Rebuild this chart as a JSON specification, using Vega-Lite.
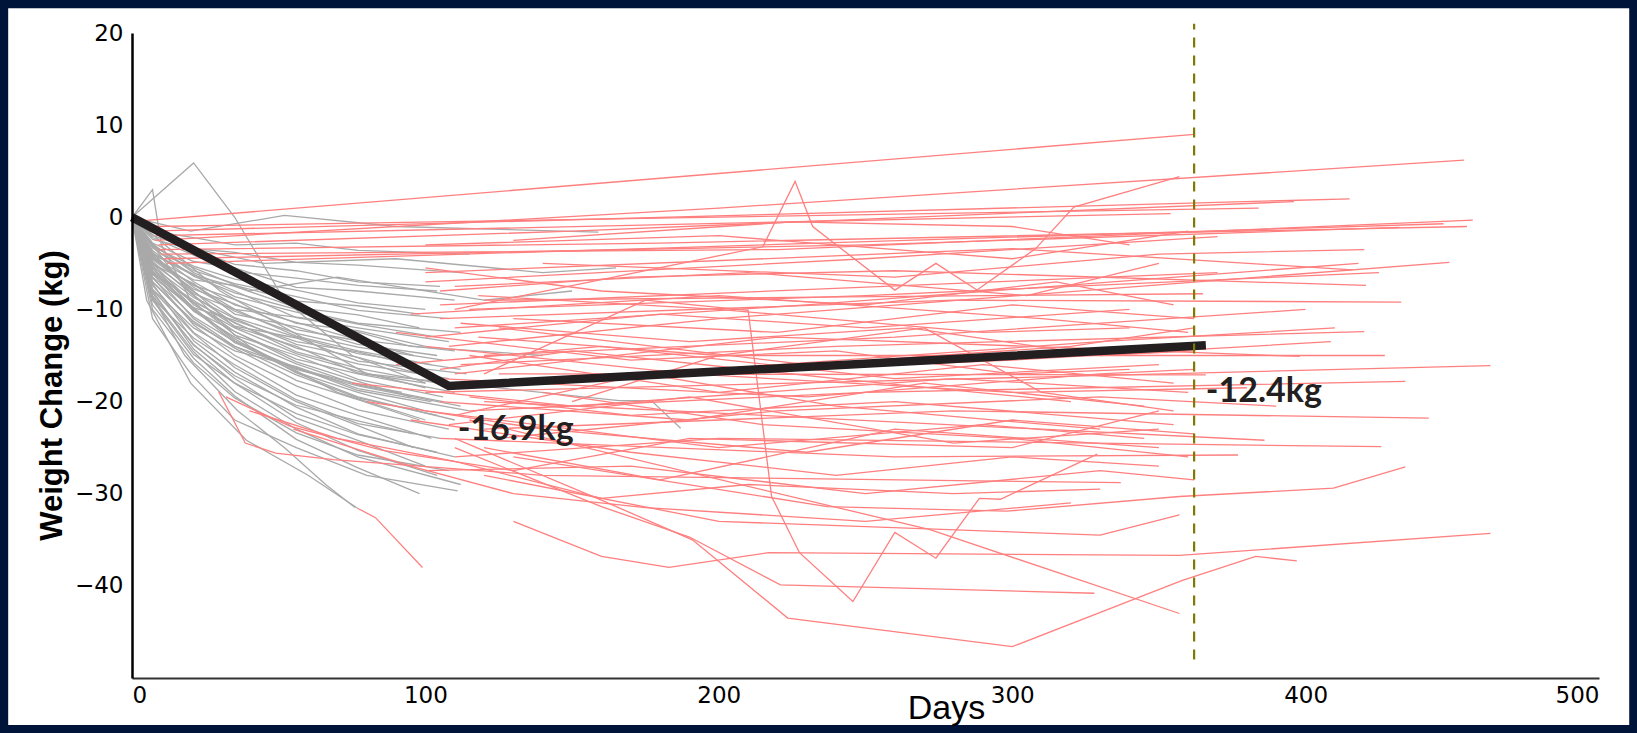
{
"$schema": "https://vega.github.io/schema/vega-lite/v6.json",
"width": 1467, "height": 645,
"autosize": {"type": "none"},
"padding": {"left": 132, "top": 33, "right": 38, "bottom": 55},
"background": "#001338",
"config": {"view": {"stroke": null}},
"datasets": {
"gray": [
{"s":"g1","d":0,"w":0},{"s":"g1","d":7,"w":-1.5},{"s":"g1","d":21,"w":-2.2},{"s":"g1","d":35,"w":-3.0},{"s":"g1","d":56,"w":-2.8},{"s":"g1","d":77,"w":-3.6},{"s":"g1","d":115,"w":-4.0},
{"s":"g2","d":0,"w":0},{"s":"g2","d":7,"w":-2.0},{"s":"g2","d":21,"w":-3.4},{"s":"g2","d":35,"w":-3.8},{"s":"g2","d":56,"w":-4.9},{"s":"g2","d":77,"w":-5.2},{"s":"g2","d":112,"w":-6.0},
{"s":"g3","d":0,"w":0},{"s":"g3","d":7,"w":-2.4},{"s":"g3","d":21,"w":-3.5},{"s":"g3","d":35,"w":-5.1},{"s":"g3","d":56,"w":-5.8},{"s":"g3","d":77,"w":-7.0},{"s":"g3","d":105,"w":-7.5},
{"s":"g4","d":0,"w":0},{"s":"g4","d":7,"w":-2.8},{"s":"g4","d":21,"w":-4.8},{"s":"g4","d":35,"w":-5.5},{"s":"g4","d":56,"w":-7.6},{"s":"g4","d":77,"w":-8.0},{"s":"g4","d":110,"w":-9.0},
{"s":"g5","d":0,"w":0},{"s":"g5","d":7,"w":-3.2},{"s":"g5","d":21,"w":-5.3},{"s":"g5","d":35,"w":-6.7},{"s":"g5","d":56,"w":-7.9},{"s":"g5","d":77,"w":-9.3},{"s":"g5","d":100,"w":-10.0},
{"s":"g6","d":0,"w":0},{"s":"g6","d":7,"w":-3.0},{"s":"g6","d":21,"w":-5.8},{"s":"g6","d":35,"w":-7.2},{"s":"g6","d":56,"w":-8.6},{"s":"g6","d":77,"w":-10.1},{"s":"g6","d":108,"w":-11.0},
{"s":"g7","d":0,"w":0},{"s":"g7","d":7,"w":-4.0},{"s":"g7","d":21,"w":-6.3},{"s":"g7","d":35,"w":-7.5},{"s":"g7","d":56,"w":-9.8},{"s":"g7","d":77,"w":-10.6},{"s":"g7","d":98,"w":-12.0},
{"s":"g8","d":0,"w":0},{"s":"g8","d":7,"w":-3.3},{"s":"g8","d":21,"w":-6.4},{"s":"g8","d":35,"w":-8.2},{"s":"g8","d":56,"w":-10.0},{"s":"g8","d":77,"w":-11.5},{"s":"g8","d":112,"w":-12.5},
{"s":"g9","d":0,"w":0},{"s":"g9","d":7,"w":-3.9},{"s":"g9","d":21,"w":-6.2},{"s":"g9","d":35,"w":-8.6},{"s":"g9","d":56,"w":-10.3},{"s":"g9","d":77,"w":-11.6},{"s":"g9","d":104,"w":-13.0},
{"s":"g10","d":0,"w":0},{"s":"g10","d":7,"w":-4.5},{"s":"g10","d":21,"w":-7.4},{"s":"g10","d":35,"w":-8.9},{"s":"g10","d":56,"w":-11.5},{"s":"g10","d":77,"w":-12.3},{"s":"g10","d":100,"w":-14.0},
{"s":"g11","d":0,"w":0},{"s":"g11","d":7,"w":-3.6},{"s":"g11","d":21,"w":-7.0},{"s":"g11","d":35,"w":-9.5},{"s":"g11","d":56,"w":-11.4},{"s":"g11","d":77,"w":-13.3},{"s":"g11","d":110,"w":-14.5},
{"s":"g12","d":0,"w":0},{"s":"g12","d":7,"w":-4.6},{"s":"g12","d":21,"w":-7.8},{"s":"g12","d":35,"w":-9.4},{"s":"g12","d":56,"w":-12.2},{"s":"g12","d":77,"w":-13.4},{"s":"g12","d":96,"w":-15.0},
{"s":"g13","d":0,"w":0},{"s":"g13","d":7,"w":-4.1},{"s":"g13","d":21,"w":-7.6},{"s":"g13","d":35,"w":-10.2},{"s":"g13","d":56,"w":-12.6},{"s":"g13","d":77,"w":-14.1},{"s":"g13","d":106,"w":-15.5},
{"s":"g14","d":0,"w":0},{"s":"g14","d":7,"w":-5.0},{"s":"g14","d":21,"w":-8.3},{"s":"g14","d":35,"w":-10.0},{"s":"g14","d":56,"w":-12.9},{"s":"g14","d":77,"w":-14.5},{"s":"g14","d":102,"w":-16.0},
{"s":"g15","d":0,"w":0},{"s":"g15","d":7,"w":-4.3},{"s":"g15","d":21,"w":-8.1},{"s":"g15","d":35,"w":-10.9},{"s":"g15","d":56,"w":-13.0},{"s":"g15","d":77,"w":-14.8},{"s":"g15","d":112,"w":-16.5},
{"s":"g16","d":0,"w":0},{"s":"g16","d":7,"w":-5.4},{"s":"g16","d":21,"w":-8.7},{"s":"g16","d":35,"w":-11.0},{"s":"g16","d":56,"w":-13.8},{"s":"g16","d":77,"w":-15.2},{"s":"g16","d":98,"w":-17.0},
{"s":"g17","d":0,"w":0},{"s":"g17","d":7,"w":-4.8},{"s":"g17","d":21,"w":-8.5},{"s":"g17","d":35,"w":-11.5},{"s":"g17","d":56,"w":-14.2},{"s":"g17","d":77,"w":-15.9},{"s":"g17","d":108,"w":-17.5},
{"s":"g18","d":0,"w":0},{"s":"g18","d":7,"w":-5.6},{"s":"g18","d":21,"w":-9.2},{"s":"g18","d":35,"w":-11.4},{"s":"g18","d":56,"w":-14.6},{"s":"g18","d":77,"w":-16.4},{"s":"g18","d":104,"w":-18.0},
{"s":"g19","d":0,"w":0},{"s":"g19","d":7,"w":-5.0},{"s":"g19","d":21,"w":-9.5},{"s":"g19","d":35,"w":-12.0},{"s":"g19","d":56,"w":-14.8},{"s":"g19","d":77,"w":-16.7},{"s":"g19","d":100,"w":-18.5},
{"s":"g20","d":0,"w":0},{"s":"g20","d":7,"w":-5.8},{"s":"g20","d":21,"w":-9.3},{"s":"g20","d":35,"w":-12.4},{"s":"g20","d":56,"w":-15.4},{"s":"g20","d":77,"w":-17.0},{"s":"g20","d":110,"w":-19.0},
{"s":"g21","d":0,"w":0},{"s":"g21","d":7,"w":-6.2},{"s":"g21","d":21,"w":-10.1},{"s":"g21","d":35,"w":-12.4},{"s":"g21","d":56,"w":-15.7},{"s":"g21","d":77,"w":-17.8},{"s":"g21","d":95,"w":-19.5},
{"s":"g22","d":0,"w":0},{"s":"g22","d":7,"w":-5.5},{"s":"g22","d":21,"w":-10.2},{"s":"g22","d":35,"w":-13.0},{"s":"g22","d":56,"w":-15.9},{"s":"g22","d":77,"w":-18.2},{"s":"g22","d":106,"w":-20.0},
{"s":"g23","d":0,"w":0},{"s":"g23","d":7,"w":-6.0},{"s":"g23","d":21,"w":-9.8},{"s":"g23","d":35,"w":-13.4},{"s":"g23","d":56,"w":-16.5},{"s":"g23","d":77,"w":-18.3},{"s":"g23","d":112,"w":-20.5},
{"s":"g24","d":0,"w":0},{"s":"g24","d":7,"w":-6.6},{"s":"g24","d":21,"w":-10.8},{"s":"g24","d":35,"w":-13.5},{"s":"g24","d":56,"w":-16.8},{"s":"g24","d":77,"w":-19.0},{"s":"g24","d":100,"w":-21.0},
{"s":"g25","d":0,"w":0},{"s":"g25","d":7,"w":-6.0},{"s":"g25","d":21,"w":-11.0},{"s":"g25","d":35,"w":-14.0},{"s":"g25","d":56,"w":-17.1},{"s":"g25","d":77,"w":-19.6},{"s":"g25","d":104,"w":-21.5},
{"s":"g26","d":0,"w":0},{"s":"g26","d":7,"w":-7.0},{"s":"g26","d":21,"w":-11.3},{"s":"g26","d":35,"w":-14.2},{"s":"g26","d":56,"w":-17.7},{"s":"g26","d":77,"w":-19.8},{"s":"g26","d":98,"w":-22.0},
{"s":"g27","d":0,"w":0},{"s":"g27","d":7,"w":-6.5},{"s":"g27","d":21,"w":-11.7},{"s":"g27","d":35,"w":-15.0},{"s":"g27","d":56,"w":-18.3},{"s":"g27","d":77,"w":-20.9},{"s":"g27","d":108,"w":-23.0},
{"s":"g28","d":0,"w":0},{"s":"g28","d":7,"w":-7.4},{"s":"g28","d":21,"w":-12.5},{"s":"g28","d":35,"w":-15.4},{"s":"g28","d":56,"w":-19.3},{"s":"g28","d":77,"w":-21.5},{"s":"g28","d":102,"w":-24.0},
{"s":"g29","d":0,"w":0},{"s":"g29","d":7,"w":-7.9},{"s":"g29","d":21,"w":-12.6},{"s":"g29","d":35,"w":-16.3},{"s":"g29","d":56,"w":-20.0},{"s":"g29","d":77,"w":-22.6},{"s":"g29","d":96,"w":-25.0},
{"s":"g30","d":0,"w":0},{"s":"g30","d":7,"w":-7.2},{"s":"g30","d":21,"w":-13.4},{"s":"g30","d":35,"w":-16.8},{"s":"g30","d":56,"w":-20.6},{"s":"g30","d":77,"w":-23.5},{"s":"g30","d":110,"w":-26.0},
{"s":"g31","d":0,"w":0},{"s":"g31","d":7,"w":-8.5},{"s":"g31","d":21,"w":-13.8},{"s":"g31","d":35,"w":-17.5},{"s":"g31","d":56,"w":-21.8},{"s":"g31","d":77,"w":-24.2},{"s":"g31","d":100,"w":-27.0},
{"s":"g32","d":0,"w":0},{"s":"g32","d":7,"w":-8.0},{"s":"g32","d":21,"w":-14.3},{"s":"g32","d":35,"w":-18.0},{"s":"g32","d":56,"w":-22.3},{"s":"g32","d":77,"w":-25.3},{"s":"g32","d":104,"w":-28.0},
{"s":"g33","d":0,"w":0},{"s":"g33","d":7,"w":-8.8},{"s":"g33","d":21,"w":-14.6},{"s":"g33","d":35,"w":-18.9},{"s":"g33","d":56,"w":-23.0},{"s":"g33","d":77,"w":-26.0},{"s":"g33","d":112,"w":-29.0},
{"s":"g34","d":0,"w":0},{"s":"g34","d":7,"w":-9.5},{"s":"g34","d":21,"w":-15.3},{"s":"g34","d":35,"w":-19.4},{"s":"g34","d":56,"w":-24.1},{"s":"g34","d":77,"w":-27.2},{"s":"g34","d":98,"w":-30.0},
{"s":"g35","d":0,"w":0},{"s":"g35","d":5,"w":-9},{"s":"g35","d":20,"w":-18},{"s":"g35","d":39,"w":-24.2},{"s":"g35","d":60,"w":-28},{"s":"g35","d":77,"w":-31.6},
{"s":"g36","d":0,"w":0},{"s":"g36","d":21,"w":5.9},{"s":"g36","d":35,"w":0},{"s":"g36","d":52,"w":-9},{"s":"g36","d":75,"w":-15},{"s":"g36","d":100,"w":-18},
{"s":"g37","d":0,"w":0},{"s":"g37","d":7,"w":3.0},{"s":"g37","d":10,"w":-3},{"s":"g37","d":20,"w":-9},{"s":"g37","d":40,"w":-14},{"s":"g37","d":70,"w":-19},{"s":"g37","d":100,"w":-22},
{"s":"g38","d":0,"w":0},{"s":"g38","d":20,"w":-1.5},{"s":"g38","d":52,"w":0.2},{"s":"g38","d":90,"w":-1},{"s":"g38","d":159,"w":-1.6},
{"s":"g39","d":0,"w":0},{"s":"g39","d":30,"w":-8},{"s":"g39","d":80,"w":-17},{"s":"g39","d":166,"w":-19.9},{"s":"g39","d":177,"w":-19.9},{"s":"g39","d":187,"w":-22.9},
{"s":"g40","d":0,"w":0},{"s":"g40","d":15,"w":-3},{"s":"g40","d":45,"w":-5},{"s":"g40","d":90,"w":-4.5},{"s":"g40","d":140,"w":-6},{"s":"g40","d":165,"w":-5.5},
{"s":"g41","d":0,"w":0},{"s":"g41","d":10,"w":-4},{"s":"g41","d":40,"w":-8},{"s":"g41","d":70,"w":-6.5},{"s":"g41","d":120,"w":-9},{"s":"g41","d":150,"w":-8},
{"s":"g42","d":0,"w":0},{"s":"g42","d":14,"w":-6},{"s":"g42","d":35,"w":-10},{"s":"g42","d":60,"w":-11},{"s":"g42","d":95,"w":-14},{"s":"g42","d":140,"w":-15},
{"s":"g43","d":0,"w":0},{"s":"g43","d":7,"w":-11},{"s":"g43","d":20,"w":-17},{"s":"g43","d":35,"w":-22},{"s":"g43","d":56,"w":-25},{"s":"g43","d":80,"w":-28},{"s":"g43","d":111,"w":-29.7},
{"s":"g44","d":0,"w":0},{"s":"g44","d":6,"w":-8},{"s":"g44","d":18,"w":-15},{"s":"g44","d":36,"w":-21},{"s":"g44","d":52,"w":-25},{"s":"g44","d":66,"w":-29},{"s":"g44","d":76,"w":-31.5},
{"s":"g45","d":0,"w":0},{"s":"g45","d":7,"w":-6.5},{"s":"g45","d":21,"w":-9.8},{"s":"g45","d":35,"w":-11.2},{"s":"g45","d":56,"w":-13.5},{"s":"g45","d":77,"w":-14.6},{"s":"g45","d":95,"w":-16.0},
{"s":"g46","d":0,"w":0},{"s":"g46","d":7,"w":-4.2},{"s":"g46","d":21,"w":-8.0},{"s":"g46","d":35,"w":-11.9},{"s":"g46","d":56,"w":-14.0},{"s":"g46","d":77,"w":-16.9},{"s":"g46","d":100,"w":-18.0},
{"s":"g47","d":0,"w":0},{"s":"g47","d":7,"w":-7.8},{"s":"g47","d":21,"w":-12.0},{"s":"g47","d":35,"w":-14.5},{"s":"g47","d":56,"w":-16.2},{"s":"g47","d":77,"w":-18.6},{"s":"g47","d":102,"w":-20.0},
{"s":"g48","d":0,"w":0},{"s":"g48","d":7,"w":-5.2},{"s":"g48","d":21,"w":-9.9},{"s":"g48","d":35,"w":-13.2},{"s":"g48","d":56,"w":-16.9},{"s":"g48","d":77,"w":-19.5},{"s":"g48","d":110,"w":-22.0},
{"s":"g49","d":0,"w":0},{"s":"g49","d":7,"w":-8.8},{"s":"g49","d":21,"w":-13.1},{"s":"g49","d":35,"w":-16.0},{"s":"g49","d":56,"w":-19.8},{"s":"g49","d":77,"w":-22.4},{"s":"g49","d":105,"w":-24.0},
{"s":"g50","d":0,"w":0},{"s":"g50","d":7,"w":-2.9},{"s":"g50","d":21,"w":-6.0},{"s":"g50","d":35,"w":-8.0},{"s":"g50","d":56,"w":-10.9},{"s":"g50","d":77,"w":-12.0},{"s":"g50","d":108,"w":-13.5},
{"s":"g51","d":0,"w":0},{"s":"g51","d":7,"w":-6.1},{"s":"g51","d":21,"w":-9.0},{"s":"g51","d":35,"w":-11.8},{"s":"g51","d":56,"w":-13.1},{"s":"g51","d":77,"w":-15.6},{"s":"g51","d":114,"w":-17.0},
{"s":"g52","d":0,"w":0},{"s":"g52","d":7,"w":-7.0},{"s":"g52","d":21,"w":-11.5},{"s":"g52","d":35,"w":-14.0},{"s":"g52","d":56,"w":-16.4},{"s":"g52","d":77,"w":-18.1},{"s":"g52","d":92,"w":-19.0},
{"s":"g53","d":0,"w":0},{"s":"g53","d":7,"w":-5.9},{"s":"g53","d":21,"w":-10.0},{"s":"g53","d":35,"w":-13.6},{"s":"g53","d":56,"w":-16.3},{"s":"g53","d":77,"w":-18.8},{"s":"g53","d":115,"w":-21.0},
{"s":"g54","d":0,"w":0},{"s":"g54","d":7,"w":-9.0},{"s":"g54","d":21,"w":-14.9},{"s":"g54","d":35,"w":-18.0},{"s":"g54","d":56,"w":-21.3},{"s":"g54","d":77,"w":-23.6},{"s":"g54","d":104,"w":-25.5},
{"s":"g55","d":0,"w":0},{"s":"g55","d":7,"w":-5.1},{"s":"g55","d":21,"w":-7.2},{"s":"g55","d":35,"w":-10.5},{"s":"g55","d":56,"w":-11.9},{"s":"g55","d":77,"w":-13.8},{"s":"g55","d":104,"w":-15.0},
{"s":"g56","d":0,"w":0},{"s":"g56","d":7,"w":-4.4},{"s":"g56","d":21,"w":-6.8},{"s":"g56","d":35,"w":-7.4},{"s":"g56","d":56,"w":-9.1},{"s":"g56","d":77,"w":-9.6},{"s":"g56","d":98,"w":-10.5},
{"s":"g57","d":0,"w":0},{"s":"g57","d":7,"w":-10.0},{"s":"g57","d":21,"w":-15.8},{"s":"g57","d":35,"w":-19.6},{"s":"g57","d":56,"w":-23.4},{"s":"g57","d":77,"w":-25.8},{"s":"g57","d":108,"w":-27.5},
{"s":"g58","d":0,"w":0},{"s":"g58","d":7,"w":-3.8},{"s":"g58","d":21,"w":-8.4},{"s":"g58","d":35,"w":-12.8},{"s":"g58","d":56,"w":-15.0},{"s":"g58","d":77,"w":-17.6},{"s":"g58","d":106,"w":-19.5},
{"s":"g59","d":0,"w":0},{"s":"g59","d":7,"w":-8.2},{"s":"g59","d":21,"w":-13.9},{"s":"g59","d":35,"w":-17.2},{"s":"g59","d":56,"w":-20.4},{"s":"g59","d":77,"w":-22.1},{"s":"g59","d":96,"w":-23.5},
{"s":"g60","d":0,"w":0},{"s":"g60","d":7,"w":-2.2},{"s":"g60","d":21,"w":-4.1},{"s":"g60","d":35,"w":-5.9},{"s":"g60","d":56,"w":-6.6},{"s":"g60","d":77,"w":-7.4},{"s":"g60","d":104,"w":-8.0}
],
"red": [
{"s":"r1","d":3,"w":-0.4},{"s":"r1","d":362,"w":9.0},
{"s":"r2","d":8,"w":-2.5},{"s":"r2","d":200,"w":1.0},{"s":"r2","d":454,"w":6.2},
{"s":"r3","d":6,"w":-1.5},{"s":"r3","d":415,"w":2.0},
{"s":"r4","d":9,"w":-3.0},{"s":"r4","d":150,"w":-1.5},{"s":"r4","d":396,"w":1.7},
{"s":"r5","d":7,"w":-1.0},{"s":"r5","d":384,"w":1.0},
{"s":"r6","d":10,"w":-4.0},{"s":"r6","d":220,"w":-3.5},{"s":"r6","d":457,"w":-0.3},
{"s":"r7","d":8,"w":-2.0},{"s":"r7","d":354,"w":0.4},
{"s":"r8","d":12,"w":-5.0},{"s":"r8","d":447,"w":-0.7},
{"s":"r56","d":9,"w":-3.5},{"s":"r56","d":180,"w":-2.8},{"s":"r56","d":455,"w":-1.0},
{"s":"r57","d":11,"w":-4.5},{"s":"r57","d":250,"w":-3.0},{"s":"r57","d":432,"w":-1.1},
{"s":"r9","d":105,"w":-8},{"s":"r9","d":170,"w":-6.5},{"s":"r9","d":260,"w":-5.8},{"s":"r9","d":420.6,"w":-7.4},
{"s":"r10","d":110,"w":-12},{"s":"r10","d":230,"w":-9.5},{"s":"r10","d":418,"w":-5.0},
{"s":"r11","d":100,"w":-6},{"s":"r11","d":300,"w":-3.4},{"s":"r11","d":416,"w":-5.7},
{"s":"r12","d":115,"w":-10},{"s":"r12","d":250,"w":-8.5},{"s":"r12","d":425,"w":-6.0},
{"s":"r13","d":108,"w":-14},{"s":"r13","d":200,"w":-11},{"s":"r13","d":449,"w":-4.9},
{"s":"r14","d":120,"w":-9},{"s":"r14","d":365,"w":-8.3},
{"s":"r15","d":105,"w":-11},{"s":"r15","d":280,"w":-9},{"s":"r15","d":432.6,"w":-9.2},
{"s":"r16","d":112,"w":-16},{"s":"r16","d":240,"w":-14},{"s":"r16","d":420,"w":-12.4},
{"s":"r17","d":110,"w":-18},{"s":"r17","d":300,"w":-15.5},{"s":"r17","d":408.6,"w":-13.5},
{"s":"r18","d":118,"w":-13},{"s":"r18","d":200,"w":-15},{"s":"r18","d":427,"w":-15.0},
{"s":"r19","d":100,"w":-19},{"s":"r19","d":463,"w":-16.1},
{"s":"r20","d":115,"w":-21},{"s":"r20","d":250,"w":-19},{"s":"r20","d":434,"w":-17.8},
{"s":"r21","d":125,"w":-17},{"s":"r21","d":366,"w":-17.1},
{"s":"r22","d":120,"w":-23},{"s":"r22","d":280,"w":-21},{"s":"r22","d":442,"w":-21.8},
{"s":"r23","d":110,"w":-26},{"s":"r23","d":200,"w":-24},{"s":"r23","d":425.8,"w":-24.9},
{"s":"r24","d":130,"w":-26},{"s":"r24","d":237,"w":-31.4},{"s":"r24","d":298,"w":-31.9},{"s":"r24","d":357,"w":-30.3},{"s":"r24","d":409.5,"w":-29.4},{"s":"r24","d":434,"w":-27.1},
{"s":"r25","d":120,"w":-20},{"s":"r25","d":386,"w":-24.2},
{"s":"r26","d":105,"w":-24},{"s":"r26","d":260,"w":-26},{"s":"r26","d":377,"w":-25.8},
{"s":"r27","d":29.5,"w":-18.9},{"s":"r27","d":38.6,"w":-24.5},{"s":"r27","d":49,"w":-25.6},{"s":"r27","d":68.6,"w":-26.3},{"s":"r27","d":140,"w":-28},{"s":"r27","d":337,"w":-28.8},
{"s":"r28","d":130,"w":-33},{"s":"r28","d":160,"w":-36.8},{"s":"r28","d":183,"w":-38},{"s":"r28","d":217,"w":-36.4},{"s":"r28","d":357,"w":-36.7},{"s":"r28","d":463,"w":-34.3},
{"s":"r29","d":110,"w":-24},{"s":"r29","d":160,"w":-30.7},{"s":"r29","d":191,"w":-35},{"s":"r29","d":223.5,"w":-43.5},{"s":"r29","d":300,"w":-46.6},{"s":"r29","d":358,"w":-39.4},{"s":"r29","d":383,"w":-36.8},{"s":"r29","d":397,"w":-37.3},
{"s":"r30","d":120,"w":-17},{"s":"r30","d":175,"w":-9},{"s":"r30","d":210,"w":-10.1},{"s":"r30","d":218,"w":-30.3},{"s":"r30","d":227.5,"w":-36.4},{"s":"r30","d":245.7,"w":-41.7},{"s":"r30","d":260,"w":-34.2},{"s":"r30","d":274,"w":-37},{"s":"r30","d":288.8,"w":-30.5},{"s":"r30","d":296,"w":-30.6},{"s":"r30","d":329,"w":-25.7},
{"s":"r31","d":110,"w":-10},{"s":"r31","d":215,"w":-3.2},{"s":"r31","d":226,"w":3.9},{"s":"r31","d":232,"w":-1.0},{"s":"r31","d":244.5,"w":-4.1},{"s":"r31","d":260,"w":-7.9},{"s":"r31","d":274,"w":-5.0},{"s":"r31","d":288,"w":-7.9},{"s":"r31","d":308,"w":-3.4},{"s":"r31","d":321,"w":1.1},{"s":"r31","d":357,"w":4.4},
{"s":"r32","d":77,"w":-31.6},{"s":"r32","d":83,"w":-32.6},{"s":"r32","d":99,"w":-38},
{"s":"r33","d":110,"w":-25},{"s":"r33","d":160,"w":-31.4},{"s":"r33","d":190,"w":-34.7},{"s":"r33","d":221,"w":-39.9},{"s":"r33","d":328,"w":-40.8},
{"s":"r34","d":115,"w":-22},{"s":"r34","d":272,"w":-33.9},{"s":"r34","d":357,"w":-43.0},
{"s":"r36","d":120,"w":-28},{"s":"r36","d":200,"w":-33},{"s":"r36","d":330,"w":-34.5},{"s":"r36","d":357,"w":-32.3},
{"s":"r38","d":32,"w":-19.5},{"s":"r38","d":54,"w":-22.7},{"s":"r38","d":85.5,"w":-25.3},{"s":"r38","d":130,"w":-27.5},{"s":"r38","d":190,"w":-24},{"s":"r38","d":300,"w":-25},{"s":"r38","d":350,"w":-21},
{"s":"r39","d":100,"w":-7},{"s":"r39","d":250,"w":-4.5},{"s":"r39","d":370,"w":-2.1},
{"s":"r40","d":105,"w":-9.5},{"s":"r40","d":370,"w":-6.0},
{"s":"r41","d":110,"w":-17},{"s":"r41","d":220,"w":-13},{"s":"r41","d":398,"w":-15.1},
{"s":"r43","d":100,"w":-13},{"s":"r43","d":180,"w":-10.5},{"s":"r43","d":250,"w":-12},{"s":"r43","d":340,"w":-10},
{"s":"r44","d":115,"w":-15},{"s":"r44","d":200,"w":-19},{"s":"r44","d":290,"w":-16},{"s":"r44","d":355,"w":-18},
{"s":"r45","d":105,"w":-20},{"s":"r45","d":190,"w":-22},{"s":"r45","d":270,"w":-18},{"s":"r45","d":345,"w":-20.5},
{"s":"r46","d":125,"w":-12},{"s":"r46","d":230,"w":-16},{"s":"r46","d":320,"w":-14},{"s":"r46","d":362,"w":-12},
{"s":"r47","d":110,"w":-21.5},{"s":"r47","d":175,"w":-17},{"s":"r47","d":240,"w":-20.5},{"s":"r47","d":330,"w":-23},
{"s":"r48","d":140,"w":-19},{"s":"r48","d":215,"w":-22.5},{"s":"r48","d":300,"w":-24},{"s":"r48","d":360,"w":-26},
{"s":"r49","d":100,"w":-5.5},{"s":"r49","d":160,"w":-8},{"s":"r49","d":250,"w":-9.5},{"s":"r49","d":315,"w":-7},{"s":"r49","d":355,"w":-9.5},
{"s":"r50","d":120,"w":-25},{"s":"r50","d":180,"w":-28.5},{"s":"r50","d":260,"w":-23},{"s":"r50","d":350,"w":-25},
{"s":"r51","d":112,"w":-11.5},{"s":"r51","d":190,"w":-13.5},{"s":"r51","d":265,"w":-12},{"s":"r51","d":330,"w":-15},{"s":"r51","d":362,"w":-14.5},
{"s":"r52","d":95,"w":-22},{"s":"r52","d":170,"w":-25.5},{"s":"r52","d":240,"w":-28},{"s":"r52","d":300,"w":-26},{"s":"r52","d":350,"w":-27},
{"s":"r53","d":100,"w":-3},{"s":"r53","d":200,"w":-2.0},{"s":"r53","d":300,"w":-4.5},{"s":"r53","d":360,"w":-1.5},
{"s":"r54","d":130,"w":-2.5},{"s":"r54","d":225,"w":-0.5},{"s":"r54","d":300,"w":-1.0},{"s":"r54","d":340,"w":-3},
{"s":"r55","d":150,"w":-20},{"s":"r55","d":200,"w":-15},{"s":"r55","d":270,"w":-12},{"s":"r55","d":310,"w":-19},{"s":"r55","d":355,"w":-21},
{"s":"r58","d":75,"w":-18},{"s":"r58","d":150,"w":-20.5},{"s":"r58","d":280,"w":-17.5},{"s":"r58","d":360,"w":-19},
{"s":"r59","d":80,"w":-20},{"s":"r59","d":140,"w":-23},{"s":"r59","d":230,"w":-25.5},{"s":"r59","d":300,"w":-22},{"s":"r59","d":362,"w":-23.5},
{"s":"r60","d":90,"w":-16},{"s":"r60","d":160,"w":-14},{"s":"r60","d":260,"w":-17.5},{"s":"r60","d":350,"w":-16},
{"s":"r61","d":40,"w":-21},{"s":"r61","d":70,"w":-24},{"s":"r61","d":110,"w":-26.5},{"s":"r61","d":160,"w":-30.5},{"s":"r61","d":210,"w":-29},{"s":"r61","d":280,"w":-30},{"s":"r61","d":330,"w":-29.5},
{"s":"r62","d":55,"w":-23},{"s":"r62","d":95,"w":-27},{"s":"r62","d":130,"w":-30},{"s":"r62","d":175,"w":-31.5},{"s":"r62","d":250,"w":-33},{"s":"r62","d":320,"w":-31},
{"s":"r63","d":100,"w":-14},{"s":"r63","d":190,"w":-17},{"s":"r63","d":300,"w":-19},{"s":"r63","d":380,"w":-18.5},
{"s":"r64","d":105,"w":-17.5},{"s":"r64","d":230,"w":-19.5},{"s":"r64","d":330,"w":-17},{"s":"r64","d":362,"w":-16.5},
{"s":"r65","d":115,"w":-19.5},{"s":"r65","d":170,"w":-21.5},{"s":"r65","d":260,"w":-20},{"s":"r65","d":355,"w":-22.5},
{"s":"r66","d":95,"w":-10.5},{"s":"r66","d":200,"w":-8.5},{"s":"r66","d":310,"w":-11},{"s":"r66","d":360,"w":-12.5},
{"s":"r67","d":120,"w":-15},{"s":"r67","d":260,"w":-13},{"s":"r67","d":400,"w":-10},
{"s":"r68","d":110,"w":-7.5},{"s":"r68","d":210,"w":-6},{"s":"r68","d":305,"w":-8.5},{"s":"r68","d":350,"w":-5},
{"s":"r69","d":100,"w":-21},{"s":"r69","d":200,"w":-25},{"s":"r69","d":290,"w":-22.5},{"s":"r69","d":345,"w":-24},
{"s":"r70","d":125,"w":-24},{"s":"r70","d":220,"w":-21},{"s":"r70","d":330,"w":-19.5},{"s":"r70","d":390,"w":-20.5},
{"s":"r71","d":105,"w":-16.5},{"s":"r71","d":150,"w":-14.5},{"s":"r71","d":240,"w":-17.5},{"s":"r71","d":320,"w":-20},
{"s":"r72","d":130,"w":-11},{"s":"r72","d":220,"w":-12.5},{"s":"r72","d":300,"w":-9.5},{"s":"r72","d":362,"w":-11},
{"s":"r73","d":115,"w":-18.5},{"s":"r73","d":220,"w":-16},{"s":"r73","d":330,"w":-13.5},{"s":"r73","d":410,"w":-12},
{"s":"r74","d":108,"w":-22.5},{"s":"r74","d":190,"w":-19.5},{"s":"r74","d":280,"w":-24.5},{"s":"r74","d":350,"w":-23},
{"s":"r75","d":90,"w":-12.5},{"s":"r75","d":170,"w":-15.5},{"s":"r75","d":240,"w":-14.5},{"s":"r75","d":300,"w":-17},{"s":"r75","d":340,"w":-16.5},
{"s":"r76","d":140,"w":-5},{"s":"r76","d":260,"w":-6.5},{"s":"r76","d":350,"w":-4},{"s":"r76","d":420,"w":-3.5},
{"s":"r77","d":100,"w":-27.5},{"s":"r77","d":170,"w":-27},{"s":"r77","d":250,"w":-30},{"s":"r77","d":330,"w":-27.5},{"s":"r77","d":362,"w":-28.5},
{"s":"r78","d":118,"w":-8.5},{"s":"r78","d":200,"w":-10},{"s":"r78","d":290,"w":-12.5},{"s":"r78","d":340,"w":-12}
],
"mean": [
{"d":0,"w":0},{"d":108,"w":-18.3},{"d":366,"w":-13.9}
],
"labels": [
{"d":111,"w":-24.2,"t":"-16.9kg"},{"d":366,"w":-20.0,"t":"-12.4kg"}
]
},
"layer": [
{
"data": {"values": [{}]},
"mark": {"type": "rect", "color": "#ffffff"},
"encoding": {
"x": {"datum": -42.2, "type": "quantitative", "scale": {"domain": [0, 500], "nice": false, "zero": false},
"axis": {"values": [0, 100, 200, 300, 400, 500], "zindex": 1, "grid": false, "ticks": false, "tickSize": 0, "labelPadding": 6,
"labelFont": "DejaVu Sans", "labelFontSize": 23, "labelColor": "#000000",
"domainColor": "#333333", "domainWidth": 2,
"title": "Days", "titleFont": "Liberation Sans Narrow, Arial Narrow, Liberation Sans", "titleFontSize": 34, "titleFontWeight": "normal", "titleColor": "#000000",
"titleX": 814, "titleY": 40, "titleBaseline": "alphabetic", "titleAlign": "center"}},
"x2": {"datum": 510.3},
"y": {"datum": 22.68, "type": "quantitative", "scale": {"domain": [-50, 20], "nice": false, "zero": false},
"axis": {"values": [20, 10, 0, -10, -20, -30, -40], "zindex": 1, "grid": false, "ticks": false, "tickSize": 0, "labelPadding": 9,
"labelFont": "DejaVu Sans", "labelFontSize": 23, "labelColor": "#000000",
"domainColor": "#000000", "domainWidth": 2.5,
"title": "Weight Change (kg)", "titleFont": "Liberation Sans", "titleFontSize": 31, "titleFontWeight": "bold", "titleColor": "#000000",
"titleX": -71, "titleY": 362, "titleAngle": 270, "titleBaseline": "alphabetic", "titleAlign": "center"}},
"y2": {"datum": -55.09}
}
},
{
"data": {"name": "gray"},
"mark": {"type": "line", "color": "#a9a9a9", "strokeWidth": 1.3},
"encoding": {
"x": {"field": "d", "type": "quantitative"},
"y": {"field": "w", "type": "quantitative"},
"detail": {"field": "s"}
}
},
{
"data": {"name": "red"},
"mark": {"type": "line", "color": "#ff7f7f", "strokeWidth": 1.3},
"encoding": {
"x": {"field": "d", "type": "quantitative"},
"y": {"field": "w", "type": "quantitative"},
"detail": {"field": "s"}
}
},
{
"data": {"name": "mean"},
"mark": {"type": "line", "color": "#231f20", "strokeWidth": 8.5, "strokeJoin": "miter", "strokeCap": "butt"},
"encoding": {
"x": {"field": "d", "type": "quantitative"},
"y": {"field": "w", "type": "quantitative"}
}
},
{
"data": {"values": [{}]},
"mark": {"type": "rule", "color": "#7f7a00", "strokeWidth": 2.2, "strokeDash": [10, 8]},
"encoding": {
"x": {"datum": 362, "type": "quantitative"},
"y": {"datum": -48, "type": "quantitative"},
"y2": {"datum": 21}
}
},
{
"data": {"name": "labels"},
"mark": {"type": "text", "font": "Lato", "fontWeight": "bold", "fontSize": 34, "color": "#231f20", "align": "left", "baseline": "alphabetic"},
"encoding": {
"x": {"field": "d", "type": "quantitative"},
"y": {"field": "w", "type": "quantitative"},
"text": {"field": "t"}
}
}
]
}
